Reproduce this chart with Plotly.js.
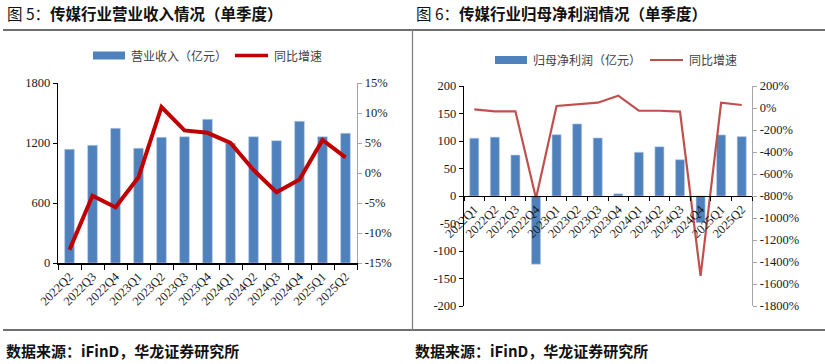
<!DOCTYPE html>
<html><head><meta charset="utf-8">
<script src="https://cdn.plot.ly/plotly-3.0.1.min.js"></script>
<style>body{margin:0;background:#fff}#chart{width:825px;height:364px}</style>
</head><body><div id="chart"></div>
<script>
// ---- Data: Figure 5 (revenue) ----
const revQuarters = ['2022Q2','2022Q3','2022Q4','2023Q1','2023Q2','2023Q3','2023Q4','2024Q1','2024Q2','2024Q3','2024Q4','2025Q1','2025Q2'];
const revenue = [1137, 1177, 1347, 1147, 1257, 1263, 1437, 1197, 1263, 1223, 1417, 1263, 1297];
const revGrowth = [-12.8, -3.8, -5.7, -0.7, 11.0, 7.1, 6.7, 5.0, 0.5, -3.2, -1.1, 5.5, 2.6];
const revTickVals = [0, 600, 1200, 1800];
const revGrowthTickVals = [-15, -10, -5, 0, 5, 10, 15];
const revGrowthTickText = ['-15%', '-10%', '-5%', '0%', '5%', '10%', '15%'];

// ---- Data: Figure 6 (net profit attributable to parent) ----
const profitQuarters = ['2022Q1','2022Q2','2022Q3','2022Q4','2023Q1','2023Q2','2023Q3','2023Q4','2024Q1','2024Q2','2024Q3','2024Q4','2025Q1','2025Q2'];
const netProfit = [105, 107, 74.5, -124, 111.5, 131, 105.5, 4, 79.5, 89.5, 66, -48.5, 111, 108];
const profitGrowth = [-12, -30, -30, -821, 18, 36, 48, 112, -24, -25, -33, -1527, 48, 27];
const profitTickVals = [-200, -150, -100, -50, 0, 50, 100, 150, 200];
const profitTickText = ['-200', '-150', '-100', '-50', '0', '50', '100', '150', '200'];
const profitGrowthTickVals = [-1800, -1600, -1400, -1200, -1000, -800, -600, -400, -200, 0, 200];
const profitGrowthTickText = ['-1800%', '-1600%', '-1400%', '-1200%', '-1000%', '-800%', '-600%', '-400%', '-200%', '0%', '200%'];

// ---- Texts ----
const title5 = '图 5：<b>传媒行业营业收入情况（单季度）</b>';
const title6 = '图 6：<b>传媒行业归母净利润情况（单季度）</b>';
const legend5 = ['营业收入（亿元）', '同比增速'];
const legend6 = ['归母净利润（亿元）', '同比增速'];
const sourceText = '<b>数据来源：iFinD，华龙证券研究所</b>';

const W = 825, H = 364;
const px = v => v / W;
const py = v => 1 - v / H;

const BLUE = '#4F81BD';
const serif = {family: 'Liberation Serif, Times New Roman, serif', size: 12.5, color: '#1a1a1a'};
const cjk = 'Noto Sans CJK SC, sans-serif';

const traces = [
  {type: 'bar', x: revQuarters, y: revenue, xaxis: 'x', yaxis: 'y', width: 0.42,
   marker: {color: BLUE, line: {color: '#b8cce4', width: 0.6}}, hoverinfo: 'x+y'},
  {type: 'scatter', mode: 'lines', x: revQuarters, y: revGrowth, xaxis: 'x', yaxis: 'y2',
   line: {color: '#C00000', width: 4}},
  {type: 'bar', x: profitQuarters, y: netProfit, xaxis: 'x2', yaxis: 'y3', width: 0.44,
   marker: {color: BLUE, line: {color: '#b8cce4', width: 0.6}}},
  {type: 'scatter', mode: 'lines', x: profitQuarters, y: profitGrowth, xaxis: 'x2', yaxis: 'y4',
   line: {color: '#C0504D', width: 2.2}}
];

const yDom1 = [py(263), py(83)];
const yDom2 = [py(306), py(86)];

const layout = {
  width: W, height: H, margin: {l: 0, r: 0, t: 0, b: 0, pad: 0},
  paper_bgcolor: '#fff', plot_bgcolor: 'rgba(0,0,0,0)', showlegend: false,
  font: serif, bargap: 0.5,
  xaxis: {domain: [px(58), px(357)], anchor: 'y', type: 'category', tickson: 'boundaries',
    ticks: 'outside', ticklen: 5, tickcolor: '#000', showline: true, linecolor: '#000', linewidth: 1.5,
    tickangle: -45, tickfont: serif, showgrid: false, automargin: false, fixedrange: true},
  yaxis: {domain: yDom1, anchor: 'x', range: [0, 1800], tickvals: revTickVals,
    ticks: 'outside', ticklen: 4, tickcolor: '#000', showline: true, linecolor: '#000', linewidth: 1.2,
    showgrid: false, zeroline: false, tickfont: serif, automargin: false},
  yaxis2: {domain: yDom1, anchor: 'x', overlaying: 'y', side: 'right', range: [-15, 15],
    tickvals: revGrowthTickVals, ticktext: revGrowthTickText,
    ticks: 'outside', ticklen: 4, tickcolor: '#a6a6a6', showline: true, linecolor: '#a6a6a6', linewidth: 1.2,
    showgrid: false, zeroline: false, tickfont: serif, automargin: false},
  xaxis2: {domain: [px(464), px(752)], anchor: 'free', position: (yDom2[0] + yDom2[1]) / 2,
    type: 'category', tickson: 'boundaries',
    ticks: 'outside', ticklen: 4, tickcolor: '#000', showline: true, linecolor: '#000', linewidth: 1.2,
    tickangle: -45, tickfont: serif, showgrid: false, automargin: false},
  yaxis3: {domain: yDom2, anchor: 'x2', range: [-200, 200], tickvals: profitTickVals, ticktext: profitTickText,
    ticks: 'outside', ticklen: 4, tickcolor: '#000', showline: true, linecolor: '#000', linewidth: 1.2,
    showgrid: false, zeroline: false, tickfont: serif, automargin: false},
  yaxis4: {domain: yDom2, anchor: 'x2', overlaying: 'y3', side: 'right', range: [-1800, 200],
    tickvals: profitGrowthTickVals, ticktext: profitGrowthTickText,
    ticks: 'outside', ticklen: 4, tickcolor: '#a6a6a6', showline: true, linecolor: '#a6a6a6', linewidth: 1.2,
    showgrid: false, zeroline: false, tickfont: serif, automargin: false},
  shapes: [
    {type: 'line', xref: 'paper', yref: 'paper', x0: px(3), x1: 1, y0: py(30), y1: py(30), line: {color: '#404040', width: 1.3}},
    {type: 'line', xref: 'paper', yref: 'paper', x0: px(3), x1: 1, y0: py(330), y1: py(330), line: {color: '#404040', width: 1.3}},
    {type: 'line', xref: 'paper', yref: 'paper', x0: px(412.5), x1: px(412.5), y0: py(30), y1: py(330), line: {color: '#808080', width: 1.3}},
    // legend swatches
    {type: 'rect', xref: 'paper', yref: 'paper', x0: px(93), x1: px(125), y0: py(59.5), y1: py(51.5), fillcolor: BLUE, line: {width: 0}},
    {type: 'line', xref: 'paper', yref: 'paper', x0: px(235), x1: px(268), y0: py(55.5), y1: py(55.5), line: {color: '#C00000', width: 3.5}},
    {type: 'rect', xref: 'paper', yref: 'paper', x0: px(495), x1: px(527), y0: py(64), y1: py(56), fillcolor: BLUE, line: {width: 0}},
    {type: 'line', xref: 'paper', yref: 'paper', x0: px(650), x1: px(683), y0: py(60), y1: py(60), line: {color: '#C0504D', width: 2}}
  ],
  annotations: [
    {text: title5, xref: 'paper', yref: 'paper', x: px(5), y: py(13), xanchor: 'left', yanchor: 'middle', showarrow: false,
     font: {family: cjk, size: 15.5, color: '#111'}},
    {text: title6, xref: 'paper', yref: 'paper', x: px(414), y: py(13), xanchor: 'left', yanchor: 'middle', showarrow: false,
     font: {family: cjk, size: 15.5, color: '#111'}},
    {text: legend5[0], xref: 'paper', yref: 'paper', x: px(129), y: py(55.5), xanchor: 'left', yanchor: 'middle', showarrow: false,
     font: {family: cjk, size: 12, color: '#404040'}},
    {text: legend5[1], xref: 'paper', yref: 'paper', x: px(272), y: py(55.5), xanchor: 'left', yanchor: 'middle', showarrow: false,
     font: {family: cjk, size: 12, color: '#404040'}},
    {text: legend6[0], xref: 'paper', yref: 'paper', x: px(531), y: py(60), xanchor: 'left', yanchor: 'middle', showarrow: false,
     font: {family: cjk, size: 12, color: '#404040'}},
    {text: legend6[1], xref: 'paper', yref: 'paper', x: px(687), y: py(60), xanchor: 'left', yanchor: 'middle', showarrow: false,
     font: {family: cjk, size: 12, color: '#404040'}},
    {text: sourceText, xref: 'paper', yref: 'paper', x: px(4), y: py(350), xanchor: 'left', yanchor: 'middle', showarrow: false,
     font: {family: cjk, size: 15, color: '#111'}},
    {text: sourceText, xref: 'paper', yref: 'paper', x: px(413), y: py(350), xanchor: 'left', yanchor: 'middle', showarrow: false,
     font: {family: cjk, size: 15, color: '#111'}}
  ]
};

Plotly.newPlot('chart', traces, layout, {displayModeBar: false, staticPlot: true});
</script>
</body></html>
